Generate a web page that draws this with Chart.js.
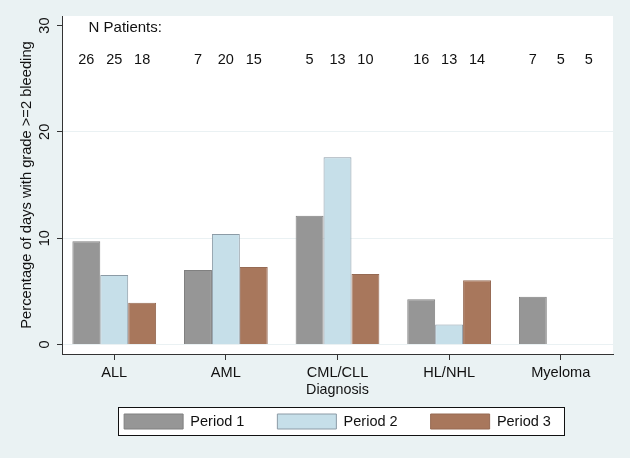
<!DOCTYPE html>
<html>
<head>
<meta charset="utf-8">
<script src="https://cdn.jsdelivr.net/npm/chart.js@4/dist/chart.umd.min.js"></script>
<style>
  html, body { margin: 0; padding: 0; background: #eaf2f3; }
  canvas { display: block; }
</style>
</head>
<body>
<canvas id="myBarChart" width="630" height="458"></canvas>
<script>
// data
const categories = ['ALL', 'AML', 'CML/CLL', 'HL/NHL', 'Myeloma'];
const periodLabels = ['Period 1', 'Period 2', 'Period 3'];
const period1 = [9.7, 7.0, 12.1, 4.24, 4.48];
const period2 = [6.53, 10.39, 17.6, 1.88, null];
const period3 = [3.92, 7.28, 6.62, 6.03, null];
const nPatients1 = [26, 7, 5, 16, 7];
const nPatients2 = [25, 20, 13, 13, 5];
const nPatients3 = [18, 15, 10, 14, 5];
const yTicks = [0, 10, 20, 30];

const FONT = 'Liberation Sans, Arial, sans-serif';
Chart.defaults.font.family = FONT;
Chart.defaults.color = '#111';

const nRowY = 26.8;      // height (in % units) of the N row
const nTitleY = 29.8;
const nTitleX = -0.23;

const toPoints = arr => arr.map((v, i) => ({ x: i, y: v }));

// plot region white + page background
const bgPlugin = {
    id: 'bgPlugin',
    beforeDraw(chart) {
        const { ctx, chartArea } = chart;
        ctx.save();
        ctx.fillStyle = '#eaf2f3';
        ctx.fillRect(0, 0, chart.width, chart.height);
        ctx.fillStyle = '#ffffff';
        ctx.fillRect(chartArea.left, chartArea.top, chartArea.right - chartArea.left, chartArea.bottom - chartArea.top);
        ctx.restore();
    }
};

// N Patients row above the bars
const nPlugin = {
    id: 'nPlugin',
    afterDatasetsDraw(chart) {
        const { ctx } = chart;
        const xs = chart.scales.x, ys = chart.scales.y;
        const counts = [nPatients1, nPatients2, nPatients3];
        ctx.save();
        ctx.fillStyle = '#111';
        ctx.textBaseline = 'middle';
        ctx.textAlign = 'left';
        ctx.font = '15px ' + FONT;
        ctx.fillText('N Patients:', xs.getPixelForValue(nTitleX), ys.getPixelForValue(nTitleY));
        ctx.textAlign = 'center';
        ctx.font = '14.5px ' + FONT;
        counts.forEach((arr, d) => {
            const meta = chart.getDatasetMeta(d);
            arr.forEach((n, i) => {
                ctx.fillText(String(n), meta.data[i].x, ys.getPixelForValue(nRowY));
            });
        });
        ctx.restore();
    }
};

// framed legend box like the original
const legendBox = {
    id: 'legendBox',
    afterInit(chart) {
        const lg = chart.legend;
        if (lg && !lg._patched) {
            const fit = lg.fit;
            lg.fit = function () {
                fit.call(this);
                this.height = 68;
            };
            lg._patched = true;
        }
    },
    beforeDraw(chart) {
        const hb = chart.legend.legendHitBoxes;
        if (!hb || !hb.length) return;
        const first = hb[0], last = hb[hb.length - 1];
        const x0 = first.left - 6, x1 = last.left + last.width + 13;
        const y0 = first.top - 7, y1 = first.top + 15 + 6;
        const ctx = chart.ctx;
        ctx.save();
        ctx.fillStyle = '#ffffff';
        ctx.fillRect(x0, y0, x1 - x0, y1 - y0);
        ctx.strokeStyle = '#111';
        ctx.lineWidth = 1;
        ctx.strokeRect(Math.round(x0) + 0.5, Math.round(y0) + 0.5, Math.round(x1 - x0), Math.round(y1 - y0));
        ctx.restore();
    }
};

const ctx = document.getElementById('myBarChart').getContext('2d');
const myBarChart = new Chart(ctx, {
    type: 'bar',
    data: {
        datasets: [{
            label: periodLabels[0],
            data: toPoints(period1),
            backgroundColor: '#969696',
            borderColor: '#808080',
            borderWidth: 1
        }, {
            label: periodLabels[1],
            data: toPoints(period2),
            backgroundColor: '#c6dfe9',
            borderColor: '#8c9ba6',
            borderWidth: 1
        }, {
            label: periodLabels[2],
            data: toPoints(period3),
            backgroundColor: '#a8775c',
            borderColor: '#966a53',
            borderWidth: 1
        }]
    },
    options: {
        responsive: false,
        animation: false,
        devicePixelRatio: 1,
        categoryPercentage: 0.75,
        barPercentage: 1,
        layout: { padding: { top: 16, right: 17, bottom: 9, left: 0 } },
        scales: {
            x: {
                type: 'linear',
                offset: false,
                min: -0.468,
                max: 4.468,
                afterBuildTicks: s => { s.ticks = categories.map((c, i) => ({ value: i })); },
                afterFit: s => { s.height = 27; },
                ticks: {
                    callback: v => categories[v],
                    font: { size: 14.6 },
                    color: '#111',
                    padding: 4,
                    maxRotation: 0,
                    autoSkip: false
                },
                grid: { offset: false, drawOnChartArea: false, tickLength: 6, tickColor: '#333' },
                border: { color: '#333', width: 1 },
                title: {
                    display: true,
                    text: 'Diagnosis',
                    font: { size: 14.3 },
                    color: '#111',
                    padding: { top: 0, bottom: -18 }
                }
            },
            y: {
                min: -0.9,
                max: 30.9,
                afterBuildTicks: s => { s.ticks = yTicks.map(v => ({ value: v })); },
                afterFit: s => { s.width = 62; },
                ticks: {
                    font: { size: 14.5 },
                    color: '#111',
                    minRotation: 90,
                    maxRotation: 90,
                    crossAlign: 'center',
                    padding: 4
                },
                grid: {
                    color: c => (c.tick && c.tick.value === 30) ? 'rgba(0,0,0,0)' : '#eaf1f3',
                    tickColor: '#333',
                    tickLength: 5
                },
                border: { color: '#333', width: 1 },
                title: {
                    display: true,
                    text: 'Percentage of days with grade >=2 bleeding',
                    font: { size: 14.7 },
                    color: '#111',
                    padding: { top: 18.2, bottom: 0 }
                }
            }
        },
        plugins: {
            legend: {
                position: 'bottom',
                fullSize: false,
                align: 'center',
                labels: {
                    boxWidth: 59,
                    boxHeight: 15,
                    padding: 33,
                    color: '#111',
                    font: { size: 14.5 }
                }
            },
            tooltip: { enabled: false }
        }
    },
    plugins: [bgPlugin, nPlugin, legendBox]
});
</script>
</body>
</html>
